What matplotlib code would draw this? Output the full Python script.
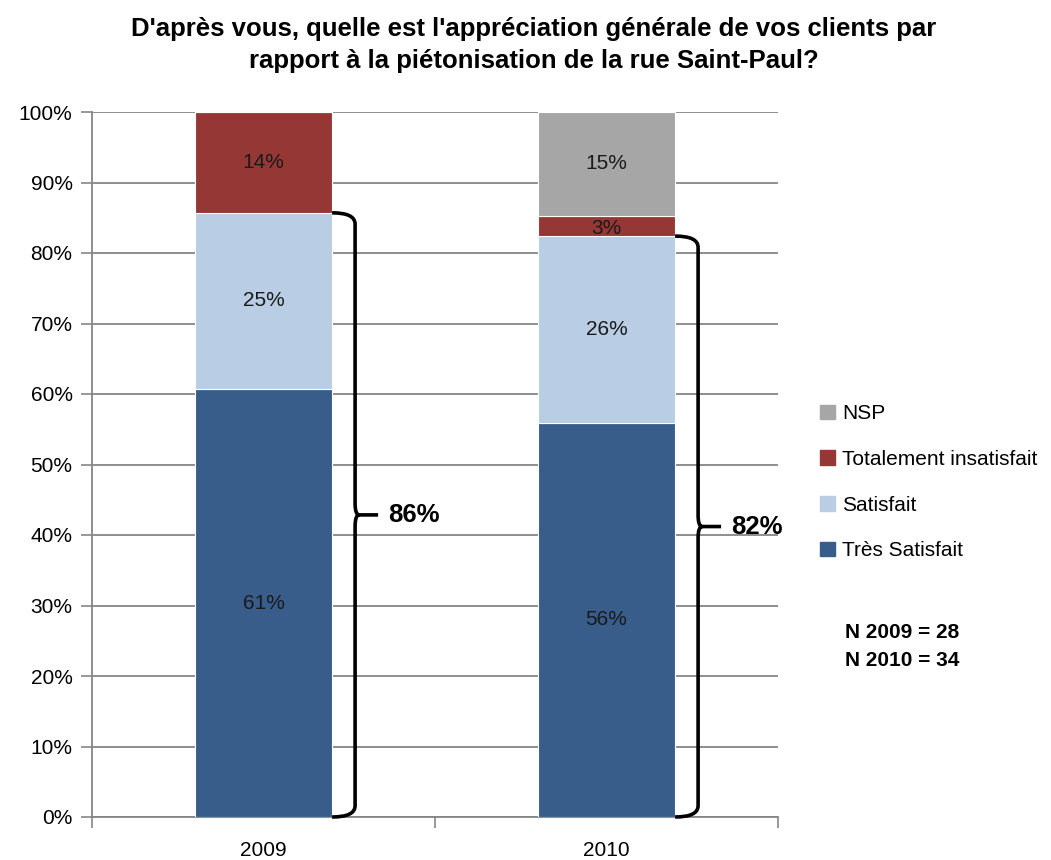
import matplotlib
matplotlib.use("Agg")
import matplotlib.pyplot as plt
import matplotlib.patches as mpatches
from matplotlib.path import Path

plt.rcParams["font.family"] = ["Liberation Sans Narrow", "Liberation Sans", "DejaVu Sans"]

# Data (percent of respondents)
years = ["2009", "2010"]
series = ["Très Satisfait", "Satisfait", "Totalement insatisfait", "NSP"]
tres_satisfait = [60.7, 55.9]
satisfait = [25.0, 26.5]
insatisfait = [14.3, 2.9]
nsp = [0.0, 14.7]
labels_shown = [["61%", "25%", "14%", ""], ["56%", "26%", "3%", "15%"]]
brace_labels = ["86%", "82%"]
sample_sizes = ["N 2009 = 28", "N 2010 = 34"]

colors = ["#385D8A", "#B9CDE5", "#953735", "#A6A6A6"]
values = [tres_satisfait, satisfait, insatisfait, nsp]

fig = plt.figure(figsize=(10.51, 8.6), dpi=100)
ax = fig.add_axes([92 / 1051, 1 - 817 / 860, (778 - 92) / 1051, (817 - 112) / 860])

x = list(range(len(years)))
bw = 0.4
bottoms = [0.0] * len(years)
handles = []
for s, vals, col in zip(series, values, colors):
    ax.bar(x, vals, width=bw, bottom=bottoms, color=col,
           edgecolor="white", linewidth=0.8, zorder=3)
    handles.append(mpatches.Patch(color=col, label=s))
    bottoms = [b + v for b, v in zip(bottoms, vals)]

# segment labels
for i in range(len(years)):
    base = 0.0
    for j, vals in enumerate(values):
        v = vals[i]
        if labels_shown[i][j]:
            yy = base + v / 2 - (0.4 if v < 5 else 0)
            ax.text(x[i], yy, labels_shown[i][j], ha="center", va="center",
                    fontsize=15, color="#1a1a1a", zorder=4)
        base += v


def draw_brace(ax, x0, top, label):
    # curly brace on the right side of a bar, from 0 to top
    xv = x0 + 23 / 343
    xt = x0 + 46 / 343
    mid = top / 2
    r = 1.6
    verts = [
        (x0, top), (xv, top), (xv, top - r),
        (xv, mid + r), (xv, mid), (xv + 0.012, mid),
        (xt, mid),
        (xv + 0.012, mid), (xv, mid), (xv, mid - r),
        (xv, r), (xv, 0), (x0, 0),
    ]
    codes = [
        Path.MOVETO, Path.CURVE3, Path.CURVE3,
        Path.LINETO, Path.CURVE3, Path.CURVE3,
        Path.LINETO,
        Path.MOVETO, Path.CURVE3, Path.CURVE3,
        Path.LINETO, Path.CURVE3, Path.CURVE3,
    ]
    ax.add_patch(mpatches.PathPatch(Path(verts, codes), fill=False, lw=2.6,
                                    edgecolor="black", zorder=5, clip_on=False,
                                    capstyle="butt", joinstyle="round"))
    ax.text(xt + 0.03, mid, label, ha="left", va="center", fontsize=18.5,
            fontweight="bold", zorder=5)


for i in range(len(years)):
    draw_brace(ax, x[i] + bw / 2, tres_satisfait[i] + satisfait[i], brace_labels[i])

ax.set_xlim(-0.5, 1.5)
ax.set_ylim(0, 100)
ax.set_yticks(range(0, 101, 10))
ax.set_yticklabels([f"{t}%" for t in range(0, 101, 10)], fontsize=15)
ax.set_xticks(x)
ax.set_xticklabels(years, fontsize=15)
ax.set_xticks([-0.5, 0.5, 1.5], minor=True)
ax.tick_params(axis="x", which="major", length=0, pad=17)
ax.tick_params(axis="x", which="minor", length=8, color="#868686", width=1.2)
ax.tick_params(axis="y", length=8, color="#868686", width=1.2, pad=6)
ax.grid(axis="y", color="#868686", linewidth=1.3, zorder=0)
for side in ["top", "right"]:
    ax.spines[side].set_visible(False)
for side in ["left", "bottom"]:
    ax.spines[side].set_color("#868686")
    ax.spines[side].set_linewidth(1.3)

fig.legend(handles=handles[::-1], loc="upper left", bbox_to_anchor=(812 / 1051, 1 - 396 / 860),
           frameon=False, fontsize=15, handlelength=0.7, handleheight=0.7,
           handletextpad=0.35, labelspacing=1.28, borderaxespad=0)

fig.text(845 / 1051, 1 - 632 / 860, sample_sizes[0], fontsize=15, fontweight="bold",
         ha="left", va="center")
fig.text(845 / 1051, 1 - 661 / 860, sample_sizes[1], fontsize=15, fontweight="bold",
         ha="left", va="center")

fig.text(534 / 1051, 1 - 45 / 860,
         "D'après vous, quelle est l'appréciation générale de vos clients par\n"
         "rapport à la piétonisation de la rue Saint-Paul?",
         ha="center", va="center", fontsize=18.5, fontweight="bold", linespacing=1.45)

fig.savefig("out.png", dpi=100)
